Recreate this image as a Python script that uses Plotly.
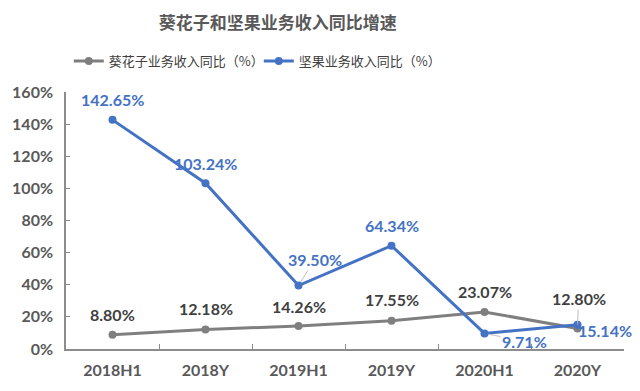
import plotly.graph_objects as go

categories = ["2018H1", "2018Y", "2019H1", "2019Y", "2020H1", "2020Y"]
sunflower = [0.0880, 0.1218, 0.1426, 0.1755, 0.2307, 0.1280]
nuts = [1.4265, 1.0324, 0.3950, 0.6434, 0.0971, 0.1514]
name_sun = "葵花子业务收入同比（%）"
name_nut = "坚果业务收入同比（%）"
title = "葵花子和坚果业务收入同比增速"

GRAY = "#7f7f7f"
BLUE = "#4472c4"
NUMFONT = "Lato, 'Noto Sans CJK SC', sans-serif"
CJK = "'Noto Sans CJK SC', sans-serif"

fig = go.Figure()
fig.add_trace(go.Scatter(x=categories, y=sunflower, mode="lines+markers", name=name_sun,
                         line=dict(color=GRAY, width=3), marker=dict(size=8, color=GRAY)))
fig.add_trace(go.Scatter(x=categories, y=nuts, mode="lines+markers", name=name_nut,
                         line=dict(color=BLUE, width=3), marker=dict(size=8, color=BLUE)))

# label offsets (pixels): (xshift, yshift, arrow?)
sun_off = [(0, 20, False), (0, 21, False), (0, 20, False), (0, 21, False), (0, 20, False), (1, -30, True)]
nut_off = [(0, 20, False), (0, 20, False), (16, -26, True), (0, 20, False), (40, 8, True), (27, -6, False)]

def add_labels(vals, offs, color):
    for c, v, (dx, dy, arrow) in zip(categories, vals, offs):
        txt = f"{v*100:.2f}%"
        if arrow:
            fig.add_annotation(x=c, y=v, text=txt, showarrow=True, ax=dx, ay=dy,
                               arrowhead=0, arrowwidth=1, arrowcolor="#bfbfbf", standoff=4,
                               font=dict(family=NUMFONT, size=16, color=color, weight="bold"))
        else:
            fig.add_annotation(x=c, y=v, text=txt, showarrow=False, xshift=dx, yshift=dy,
                               font=dict(family=NUMFONT, size=16, color=color, weight="bold"))

add_labels(sunflower, sun_off, "#404040")
add_labels(nuts, nut_off, BLUE)

fig.update_layout(
    width=640, height=391,
    margin=dict(l=62, r=16, t=92, b=42),
    paper_bgcolor="white", plot_bgcolor="white",
    title=dict(text=title, x=0.434, xanchor="center", y=0.941, yanchor="middle",
               font=dict(family=CJK, size=17, color="#595959", weight="bold")),
    legend=dict(orientation="h", x=0.005, xanchor="left", y=1.12, yanchor="middle",
                font=dict(family=CJK, size=13, color="#404040"), itemwidth=30,
                entrywidth=145, entrywidthmode="pixels",
                bgcolor="rgba(0,0,0,0)"),
    showlegend=True,
)
fig.update_xaxes(type="category", range=[-0.5, 5.5], showline=True, linecolor="#8c8c8c",
                 linewidth=1.5, ticks="inside", ticklen=5, tickcolor="#8c8c8c",
                 tickson="boundaries", showgrid=False, zeroline=False, ticklabelstandoff=6,
                 tickfont=dict(family=NUMFONT, size=16, color="#595959", weight="bold"))
fig.update_yaxes(range=[0, 1.6], dtick=0.2, tickformat=".0%", showline=True, linecolor="#8c8c8c",
                 linewidth=1.5, ticks="inside", ticklen=4, tickcolor="#8c8c8c",
                 showgrid=False, zeroline=False, ticklabelstandoff=8,
                 tickfont=dict(family=NUMFONT, size=16, color="#595959", weight="bold"))

fig.write_html("out.html", config={"displayModeBar": False},
               post_script="document.body.style.margin='0';document.body.style.overflow='hidden';")
